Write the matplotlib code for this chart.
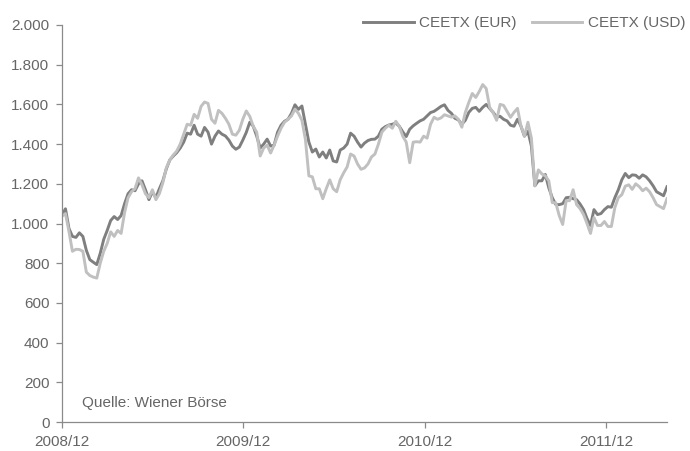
"""CEETX index in EUR and USD, weekly closes 2008/12 - 2012/04."""

import matplotlib

matplotlib.use("Agg")
import matplotlib.dates as mdates
import matplotlib.pyplot as plt
import pandas as pd
from matplotlib.ticker import FuncFormatter, MultipleLocator

dates = pd.date_range("2008-12-01", "2012-04-02", freq="7D")

ceetx_eur = [
    1045, 1074, 975, 935, 930, 953, 935, 865, 818, 805,
    793, 850, 920, 965, 1015, 1035, 1020, 1040, 1100, 1150,
    1170, 1165, 1200, 1215, 1170, 1120, 1160, 1130, 1175, 1215,
    1275, 1320, 1340, 1357, 1380, 1410, 1455, 1450, 1495, 1450,
    1440, 1484, 1460, 1400, 1440, 1466, 1450, 1441, 1420, 1390,
    1374, 1385, 1420, 1459, 1510, 1490, 1440, 1380, 1400, 1425,
    1390, 1395, 1460, 1495, 1515, 1525, 1555, 1598, 1575, 1592,
    1500, 1410, 1360, 1375, 1335, 1360, 1330, 1370, 1315, 1310,
    1370, 1380, 1400, 1455, 1440, 1410, 1385, 1405, 1418, 1424,
    1425, 1440, 1475, 1488, 1496, 1500, 1506, 1490, 1462, 1438,
    1475, 1492, 1505, 1517, 1525, 1542, 1559, 1565, 1577, 1590,
    1598, 1570, 1555, 1530, 1522, 1500, 1520, 1560, 1580, 1585,
    1565, 1585, 1600, 1580, 1560, 1536, 1540, 1525, 1517, 1495,
    1490, 1525, 1490, 1440, 1465, 1390, 1190, 1215, 1215, 1247,
    1180, 1130, 1096, 1095, 1100, 1130, 1132, 1125, 1120, 1098,
    1070, 1025, 990, 1070, 1045, 1050, 1070, 1085, 1082, 1130,
    1170, 1220, 1252, 1231, 1245, 1243, 1228, 1245, 1235, 1215,
    1190, 1160, 1150, 1140, 1185,
]

ceetx_usd = [
    1037, 1050, 960, 860, 870, 869, 860, 755, 738, 730,
    725, 800, 860, 900, 958, 935, 965, 950, 1055, 1130,
    1160, 1175, 1230, 1195, 1150, 1130, 1170, 1120, 1150, 1205,
    1280, 1320, 1345, 1365, 1400, 1450, 1500, 1495, 1550, 1530,
    1590, 1612, 1605, 1525, 1505, 1570, 1555, 1530, 1500, 1450,
    1445, 1470, 1525, 1567, 1540, 1490, 1460, 1340, 1380, 1395,
    1355, 1395, 1440, 1480, 1510, 1525, 1542, 1576, 1555, 1520,
    1424, 1240, 1235, 1175, 1175, 1125, 1175, 1220, 1175, 1160,
    1220, 1255, 1285, 1350, 1340, 1300, 1273, 1280, 1300, 1335,
    1350, 1400, 1460, 1480, 1495, 1480, 1515, 1490, 1440, 1410,
    1306, 1410, 1412, 1410, 1440, 1430, 1500, 1535, 1525, 1532,
    1548, 1542, 1536, 1542, 1525, 1485, 1560, 1610, 1655, 1635,
    1665, 1700, 1680, 1585, 1558, 1520, 1600, 1595, 1565, 1535,
    1560, 1580, 1491, 1440, 1510, 1430, 1190, 1270, 1250, 1240,
    1215, 1105, 1105, 1040, 995, 1115, 1115, 1170, 1095, 1075,
    1045, 1000, 950, 1030, 990, 990, 1010, 985, 985, 1080,
    1130, 1145, 1188, 1195, 1172, 1200, 1186, 1165, 1178, 1160,
    1130, 1095, 1085, 1075, 1125,
]

year_ticks = ["2008-12-01", "2009-12-01", "2010-12-01", "2011-12-01"]
series_labels = ["CEETX (EUR)", "CEETX (USD)"]
source_note = "Quelle: Wiener Börse"

DARK = "#7f7f7f"
LIGHT = "#c0c0c0"
TEXT = "#666666"
AXIS = "#8a8a8a"


def _thousands(v, _pos):
    return f"{v:,.0f}".replace(",", ".")


plt.rcParams["font.family"] = ["Liberation Sans", "DejaVu Sans"]
plt.rcParams["font.size"] = 11

fig = plt.figure(figsize=(6.9, 4.51), dpi=100)
ax = fig.add_axes([62 / 690, 29 / 451, 605 / 690, 397 / 451])

ax.plot(dates, ceetx_eur, color=DARK, lw=2.1, label=series_labels[0])
ax.plot(dates, ceetx_usd, color=LIGHT, lw=2.1, label=series_labels[1])

ax.set_ylim(0, 2000)
ax.set_xlim(dates[0], dates[-1])
ax.yaxis.set_major_locator(MultipleLocator(200))
ax.yaxis.set_major_formatter(FuncFormatter(_thousands))
ax.set_xticks(pd.to_datetime(year_ticks))
ax.xaxis.set_major_formatter(mdates.DateFormatter("%Y/%m"))

for side in ("top", "right"):
    ax.spines[side].set_visible(False)
for side in ("left", "bottom"):
    ax.spines[side].set_color(AXIS)
    ax.spines[side].set_linewidth(0.9)
ax.tick_params(axis="both", colors=AXIS, labelcolor=TEXT, length=4,
               width=0.9, direction="out")
ax.tick_params(axis="y", pad=5)
ax.tick_params(axis="x", pad=5)

ax.text(0.033, 0.047, source_note, transform=ax.transAxes, color=TEXT,
        ha="left", va="center")

leg = fig.legend(loc="center right", bbox_to_anchor=(0.993, 1 - 23 / 451),
                 ncol=2, frameon=False, handlelength=3.3,
                 handletextpad=0.35, columnspacing=1.0, borderpad=0,
                 borderaxespad=0)
for txt in leg.get_texts():
    txt.set_color(TEXT)

fig.savefig("out.png", dpi=100)
